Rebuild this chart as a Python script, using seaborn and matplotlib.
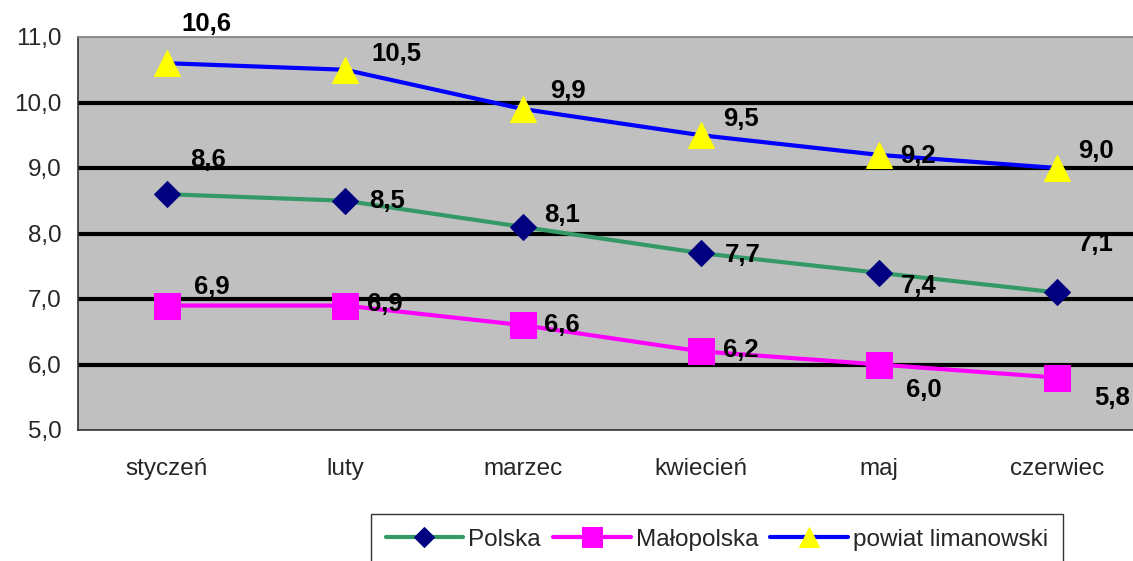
import pandas as pd
import matplotlib.pyplot as plt
import seaborn as sns
from matplotlib.ticker import FixedLocator

months = ['styczeń', 'luty', 'marzec', 'kwiecień', 'maj', 'czerwiec']
polska = [8.6, 8.5, 8.1, 7.7, 7.4, 7.1]
malopolska = [6.9, 6.9, 6.6, 6.2, 6.0, 5.8]
powiat = [10.6, 10.5, 9.9, 9.5, 9.2, 9.0]
series_names = ['Polska', 'Małopolska', 'powiat limanowski']

# label offsets (pixels) as placed by hand in the original
off_polska = [(41, 34), (42, 0), (39, 12), (42, -2), (40, -13), (39, 48)]
off_malo = [(45, 19), (40, 2), (39, 0), (40, 1), (45, -26), (55, -20)]
off_powiat = [(39, 39), (51, 16), (45, 18), (40, 16), (39, -1), (39, 17)]

sns.set_style('white')
plt.rcParams['font.family'] = ['Liberation Sans', 'DejaVu Sans']

fig = plt.figure(figsize=(11.33, 5.61), dpi=100)
ax = fig.add_axes([78 / 1133, 1 - 430 / 561, (1146 - 78) / 1133, (430 - 37) / 561])
ax.set_facecolor('#C0C0C0')

styles = [
    (polska, '#339966', 'D', '#000080', 13.5, off_polska),
    (malopolska, '#FF00FF', 's', '#FF00FF', 19, off_malo),
    (powiat, '#0000FF', '^', '#FFFF00', 19, off_powiat),
]

x = list(range(len(months)))
for name, (vals, lc, mk, mc, ms, offs) in zip(series_names, styles):
    df = pd.DataFrame({'x': x, 'y': vals})
    sns.lineplot(data=df, x='x', y='y', ax=ax, color=lc, linewidth=3,
                 marker=mk, markersize=ms, markerfacecolor=mc,
                 markeredgecolor=mc, label=name, zorder=3)
    for xi, v, (dx, dy) in zip(x, vals, offs):
        ax.annotate(f'{v:.1f}'.replace('.', ','), (xi, v), xytext=(dx * 0.72, dy * 0.72),
                    textcoords='offset points', ha='center', va='center',
                    fontsize=18.5, fontweight='bold', color='black',
                    annotation_clip=False, zorder=5)

ax.set_xlim(-0.5, 5.5)
ax.set_ylim(5, 11)
yt = [5, 6, 7, 8, 9, 10, 11]
ax.set_yticks(yt)
ax.set_yticklabels([f'{v:.1f}'.replace('.', ',') for v in yt], fontsize=17.5)
for v in yt[1:-1]:
    ax.axhline(v, color='black', linewidth=3, zorder=1)

ax.set_xticks(x)
ax.set_xticklabels(months, fontsize=17.5)
ax.tick_params(axis='x', which='major', length=0, pad=20)
ax.xaxis.set_minor_locator(FixedLocator([i - 0.5 for i in range(7)]))
ax.tick_params(axis='x', which='minor', length=6, width=1, color='black', direction='out')
ax.tick_params(axis='y', length=6, width=1, color='black', direction='out', pad=6)
ax.set_xlabel('')
ax.set_ylabel('')

for side in ['left', 'bottom']:
    ax.spines[side].set_color('#333333')
    ax.spines[side].set_linewidth(1.2)
for side in ['top', 'right']:
    ax.spines[side].set_color('#808080')
    ax.spines[side].set_linewidth(1.2)

handles, labels = ax.get_legend_handles_labels()
ax.get_legend().remove()
leg = fig.legend(handles, labels, loc='upper left',
                 bbox_to_anchor=(371 / 1133, 1 - 514 / 561), ncol=3,
                 fontsize=17.5, frameon=True, fancybox=False, edgecolor='black',
                 handlelength=3.2, handletextpad=0.2, columnspacing=0.5,
                 borderpad=0.6, borderaxespad=0, markerscale=0.75)
leg.get_frame().set_linewidth(1)

fig.savefig('out.png', dpi=100)
